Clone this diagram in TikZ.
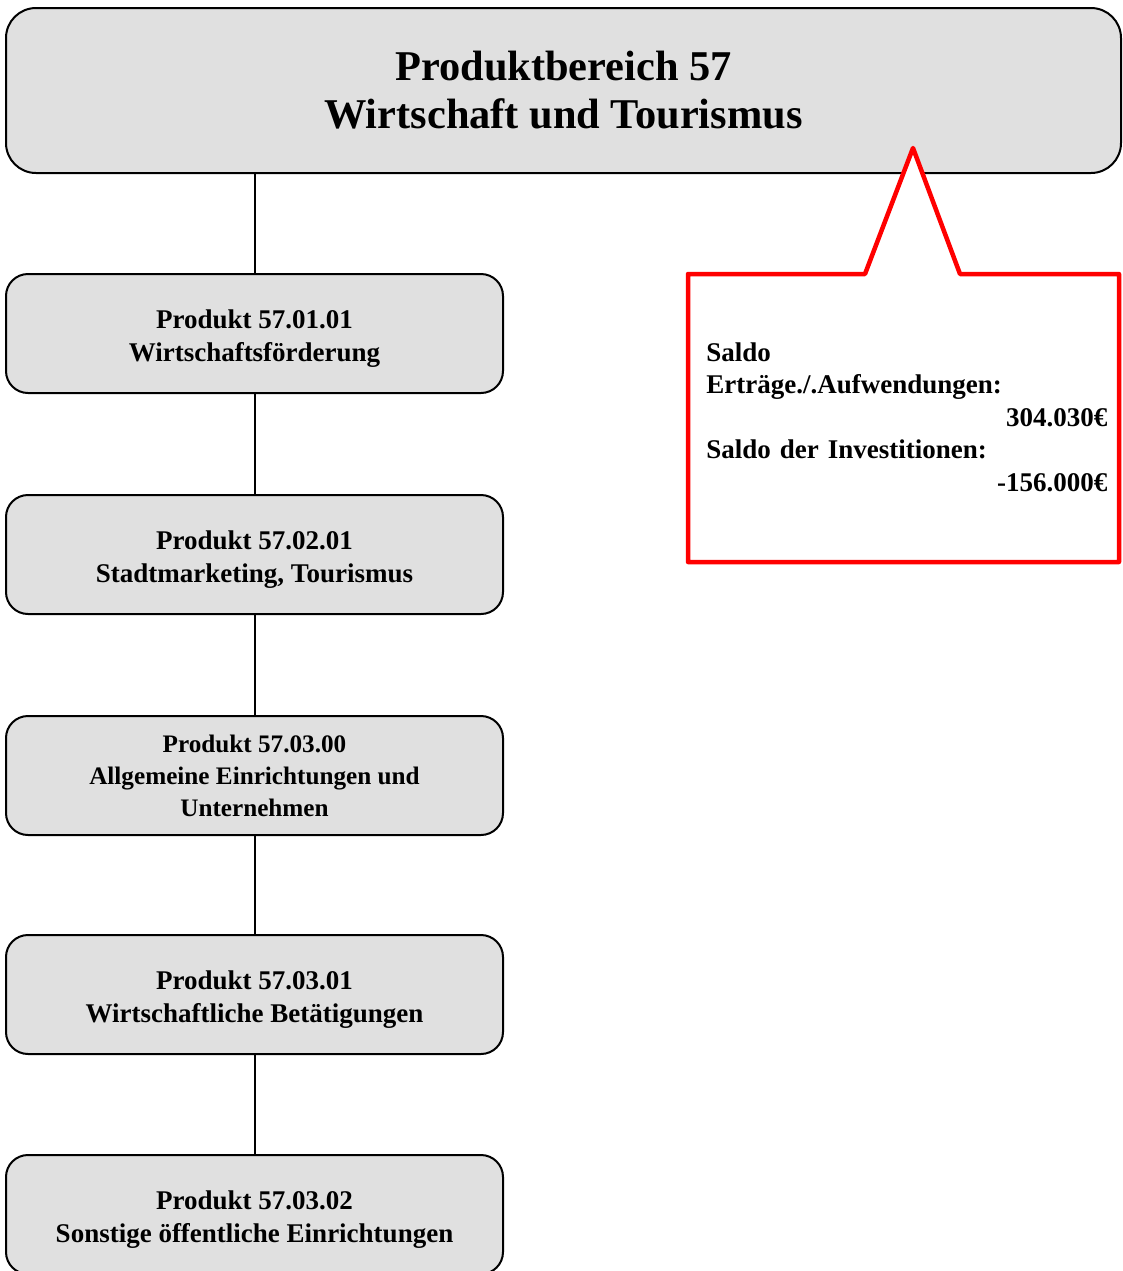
\documentclass[tikz,border=0pt]{standalone}
\usepackage{fontspec}
\setmainfont{Liberation Serif}
\usepackage{tikz}

\definecolor{boxgray}{RGB}{224,224,224}
\newcommand{\obenluft}{\rule{0pt}{14pt}}

\begin{document}
\begin{tikzpicture}[x=0.5pt,y=-0.5pt,
		produkt/.style={draw=black,line width=1pt,fill=boxgray,rounded corners=11pt,
			minimum width=248.5pt,minimum height=59.5pt,align=center,
			font=\bfseries\fontsize{13.5}{16.5}\selectfont},
		link/.style={line width=1pt}]
	\useasboundingbox (0,0) rectangle (1123,1271);
	% Produktbereich
	\node[produkt,rounded corners=15pt,minimum width=557.5pt,minimum height=82.5pt,
		font=\bfseries\fontsize{21.2}{24}\selectfont] (bereich) at (563.5,90.5)
		{Produktbereich 57\\Wirtschaft und Tourismus};
	% Produkte
	\node[produkt] (p1) at (254.5,333.5) {\obenluft Produkt 57.01.01\\Wirtschaftsförderung};
	\node[produkt] (p2) at (254.5,554.5) {\obenluft Produkt 57.02.01\\Stadtmarketing, Tourismus};
	\node[produkt,font=\bfseries\fontsize{12.6}{16}\selectfont] (p3) at (254.5,775.5)
		{Produkt 57.03.00\\Allgemeine Einrichtungen und\\Unternehmen};
	\node[produkt] (p4) at (254.5,994.5) {\obenluft Produkt 57.03.01\\Wirtschaftliche Betätigungen};
	\node[produkt] (p5) at (254.5,1214.5) {\obenluft Produkt 57.03.02\\Sonstige öffentliche Einrichtungen};
	% Linien
	\draw[link] (bereich.south -| p1.north) -- (p1.north);
	\draw[link] (p1) -- (p2);
	\draw[link] (p2) -- (p3);
	\draw[link] (p3) -- (p4);
	\draw[link] (p4) -- (p5);
	% Sprechblase
	\draw[red,fill=white,line width=2.25pt,line join=round]
		(688,274) -- (865,274) -- (913,148) -- (960,274) -- (1119,274)
		-- (1119,562) -- (688,562) -- cycle;
	\node[anchor=north west,inner sep=0pt,align=left,text width=200.5pt,
		font=\bfseries\fontsize{13.5}{16.25}\selectfont] (saldo) at (706,342)
		{Saldo\\Erträge./.Aufwendungen:\\\makebox[200.5pt][r]{304.030€}\\
		Saldo der Investitionen:\\\makebox[200.5pt][r]{-156.000€}};
\end{tikzpicture}
\end{document}
